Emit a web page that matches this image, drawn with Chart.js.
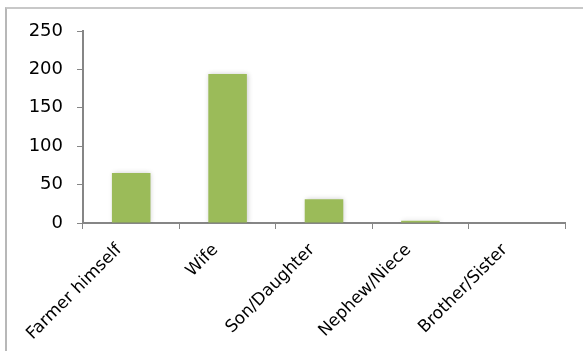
<!DOCTYPE html>
<html lang="en">
<head>
    <meta charset="UTF-8">
    <title>Who does the work</title>
    <style>
        * { margin: 0; padding: 0; box-sizing: border-box; }
        body { background: #fff; width: 583px; height: 351px; overflow: hidden; }
        .wrap { position: relative; width: 583px; height: 351px; }
        .frame {
            position: absolute;
            left: 5px;
            top: 7px;
            right: -4px;
            bottom: -4px;
            border-left: 2px solid #b8b8b8;
            border-top: 2px solid #c8c8c8;
        }
        canvas { position: absolute; left: 0; top: 0; }
    </style>
    <script src="https://cdn.jsdelivr.net/npm/chart.js"></script>
</head>
<body>
    <div class="wrap">
        <div class="frame"></div>
        <canvas id="chart" width="583" height="351"></canvas>
    </div>

    <script>
        // data
        const categories = ['Farmer himself', 'Wife', 'Son/Daughter', 'Nephew/Niece', 'Brother/Sister'];
        const counts = [65, 194, 31, 3, 0];
        const yTicks = [0, 50, 100, 150, 200, 250];

        const axisGray = '#868686';

        // soft glow behind the bars, like the office chart
        const barShadow = {
            id: 'barShadow',
            beforeDatasetsDraw(chart) {
                const c = chart.ctx;
                c.save();
                c.shadowColor = 'rgba(0,0,0,0.2)';
                c.shadowBlur = 5;
                c.shadowOffsetX = 1;
                c.shadowOffsetY = 0;
            },
            afterDatasetsDraw(chart) {
                chart.ctx.restore();
            }
        };

        new Chart(document.getElementById('chart'), {
            type: 'bar',
            data: {
                labels: categories,
                datasets: [{
                    data: counts,
                    backgroundColor: '#9bbb59',
                    borderWidth: 0,
                    barPercentage: 0.4,
                    categoryPercentage: 1
                }]
            },
            options: {
                responsive: false,
                animation: false,
                layout: { padding: { top: 31, right: 18, left: 0, bottom: 0 } },
                plugins: {
                    legend: { display: false },
                    tooltip: { enabled: false }
                },
                scales: {
                    x: {
                        offset: true,
                        grid: {
                            offset: true,
                            drawOnChartArea: false,
                            drawTicks: true,
                            tickLength: 6,
                            tickColor: axisGray
                        },
                        border: { color: axisGray, width: 2 },
                        ticks: {
                            autoSkip: false,
                            minRotation: 45,
                            maxRotation: 45,
                            padding: 11,
                            labelOffset: -12,
                            color: '#000',
                            font: { family: 'DejaVu Sans', size: 17 }
                        },
                        afterFit(scale) { scale.height = 128; }
                    },
                    y: {
                        min: 0,
                        max: 250,
                        afterBuildTicks(scale) {
                            scale.ticks = yTicks.map(v => ({ value: v }));
                        },
                        grid: {
                            drawOnChartArea: false,
                            drawTicks: true,
                            tickLength: 6,
                            tickColor: axisGray
                        },
                        border: { color: axisGray, width: 2 },
                        ticks: {
                            padding: 14,
                            color: '#000',
                            font: { family: 'DejaVu Sans', size: 18 }
                        },
                        afterFit(scale) { scale.width = 83; }
                    }
                }
            },
            plugins: [barShadow]
        });
    </script>
</body>
</html>
